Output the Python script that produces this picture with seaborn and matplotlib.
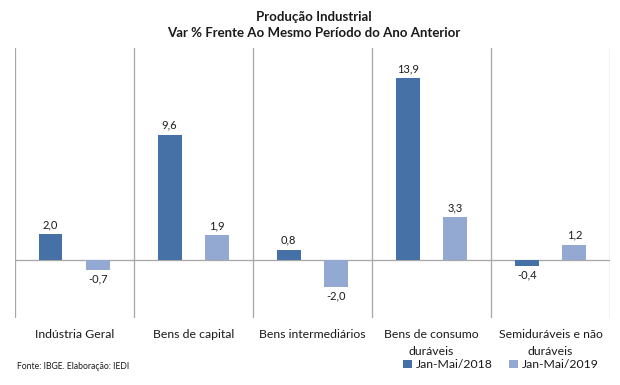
import numpy as np
import pandas as pd
import matplotlib
matplotlib.use("Agg")
import matplotlib.pyplot as plt
import seaborn as sns

categories = ["Indústria Geral", "Bens de capital", "Bens intermediários",
              "Bens de consumo\nduráveis", "Semiduráveis e não\nduráveis"]
series = ["Jan-Mai/2018", "Jan-Mai/2019"]
values_2018 = [2.0, 9.6, 0.8, 13.9, -0.4]
values_2019 = [-0.7, 1.9, -2.0, 3.3, 1.2]

colors = ["#4571A7", "#94A9D2"]
grid_color = "#A6A6A6"

sns.set_theme(style="white")
plt.rcParams["font.family"] = ["Lato", "DejaVu Sans"]

df = pd.DataFrame({
    "categoria": categories * 2,
    "serie": [series[0]] * len(categories) + [series[1]] * len(categories),
    "valor": values_2018 + values_2019,
})

fig = plt.figure(figsize=(6.2, 3.85), dpi=100)
ax = fig.add_axes([0.024, 0.174, 0.96, 0.701])

sns.barplot(data=df, x="categoria", y="valor", hue="serie", order=categories,
            hue_order=series, palette=colors, width=0.8, gap=0.5,
            saturation=1, errorbar=None, linewidth=0, ax=ax, legend=True)

ax.set_xlim(-0.5, len(categories) - 0.5)
ax.set_ylim(-4.4, 16.2)

# separadores entre categorias e linha do zero
for b in np.arange(-0.5, len(categories), 1.0):
    ax.axvline(b, color=grid_color, lw=0.9, zorder=0)
ax.axhline(0, color=grid_color, lw=0.9, zorder=0)

for s in ax.spines.values():
    s.set_visible(False)

ax.set_yticks([])
ax.set_xlabel("")
ax.set_ylabel("")
ax.set_xticks(range(len(categories)), categories, linespacing=1.6)
ax.tick_params(axis="x", length=0, pad=8, labelsize=8.8, colors="#1a1a1a")

# rótulos dos valores
for cont in ax.containers:
    labels = [f"{v:.1f}".replace(".", ",") for v in cont.datavalues]
    ax.bar_label(cont, labels=labels, padding=3, fontsize=8, color="#1a1a1a")

fig.text(0.506, 0.955, "Produção Industrial", ha="center", va="center",
         fontsize=9.5, fontweight="bold", color="#1a1a1a")
fig.text(0.506, 0.913, "Var % Frente Ao Mesmo Período do Ano Anterior", ha="center",
         va="center", fontsize=9.5, fontweight="bold", color="#1a1a1a")

fig.text(0.027, 0.047, "Fonte: IBGE. Elaboração: IEDI", ha="left", va="center",
         fontsize=6.2, color="#1a1a1a")

handles, labs = ax.get_legend_handles_labels()
ax.get_legend().remove()
fig.legend(handles, labs, loc="center right", bbox_to_anchor=(0.983, 0.052), ncol=2,
           frameon=False, fontsize=8.8, handlelength=0.7, handleheight=0.7,
           handletextpad=0.3, columnspacing=1.4, labelcolor="#1a1a1a")

fig.savefig("out.png", dpi=100, facecolor="white")
